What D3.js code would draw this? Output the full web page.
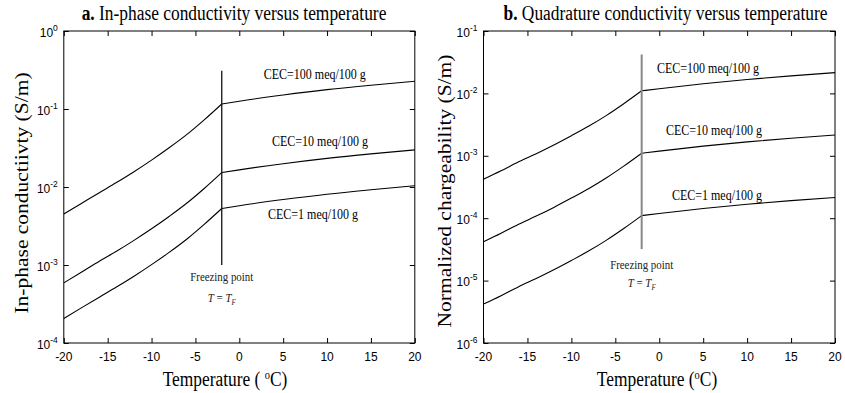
<!DOCTYPE html>
<html>
<head>
<meta charset="utf-8">
<script src="https://cdn.jsdelivr.net/npm/d3@7"></script>
<style>
  body { margin: 0; background: #fff; }
  .tick line { stroke: #000; }
</style>
</head>
<body>
<div id="chart"></div>
<script>
//////////
// DATA //
//////////

// temperatures (deg C) below and above the freezing point
var frozenTemps = [-20, -18, -16, -14, -12, -10, -8, -6, -4, -2];
var thawedTemps = [-2, 0, 5, 10, 15, 20];
var freezingT = -2;
var xTicks = [-20, -15, -10, -5, 0, 5, 10, 15, 20];

var cecLabels = ["CEC=100 meq/100 g", "CEC=10 meq/100 g", "CEC=1 meq/100 g"];

// a. in-phase conductivity (S/m)
var inPhase100Frozen = [4.5e-3, 6.15e-3, 8.4e-3, 1.14e-2, 1.57e-2, 2.21e-2, 3.18e-2, 4.69e-2, 7.26e-2, 0.116];
var inPhase100Thawed = [0.116, 0.126, 0.151, 0.177, 0.202, 0.227];
var inPhase10Frozen = [5.9e-4, 8.07e-4, 1.11e-3, 1.50e-3, 2.07e-3, 2.91e-3, 4.19e-3, 6.18e-3, 9.57e-3, 1.53e-2];
var inPhase10Thawed = [1.53e-2, 1.66e-2, 1.99e-2, 2.33e-2, 2.66e-2, 2.99e-2];
var inPhase1Frozen = [2.06e-4, 2.82e-4, 3.84e-4, 5.21e-4, 7.17e-4, 1.01e-3, 1.45e-3, 2.14e-3, 3.32e-3, 5.3e-3];
var inPhase1Thawed = [5.3e-3, 5.76e-3, 6.9e-3, 8.09e-3, 9.23e-3, 1.04e-2];
var inPhaseExps = [0, -1, -2, -3, -4];
var inPhaseFreezeLine = [1e-3, 0.31];

// b. normalized chargeability (S/m)
var quad100Frozen = [4.2e-4, 5.74e-4, 8.0e-4, 1.08e-3, 1.49e-3, 2.1e-3, 3.0e-3, 4.45e-3, 6.9e-3, 1.1e-2];
var quad100Thawed = [1.1e-2, 1.19e-2, 1.43e-2, 1.67e-2, 1.91e-2, 2.15e-2];
var quad10Frozen = [4.2e-5, 5.74e-5, 8.0e-5, 1.08e-4, 1.49e-4, 2.1e-4, 3.0e-4, 4.45e-4, 6.9e-4, 1.1e-3];
var quad10Thawed = [1.1e-3, 1.19e-3, 1.43e-3, 1.67e-3, 1.91e-3, 2.15e-3];
var quad1Frozen = [4.2e-6, 5.74e-6, 8.0e-6, 1.08e-5, 1.49e-5, 2.1e-5, 3.0e-5, 4.45e-5, 6.9e-5, 1.1e-4];
var quad1Thawed = [1.1e-4, 1.19e-4, 1.43e-4, 1.67e-4, 1.91e-4, 2.15e-4];
var quadExps = [-1, -2, -3, -4, -5, -6];
var quadFreezeLine = [3.2e-5, 0.042];

/////////
// SVG //
/////////

var svg = d3.select("#chart").append("svg")
  .attr("width", 845)
  .attr("height", 393)
  .style("background", "#fff");

// the original figure is squeezed a little horizontally (serif text only)
var SX = 0.87;
var serif = "'Liberation Serif', 'Times New Roman', serif";
var sans = "'Liberation Sans', Arial, sans-serif";

function addText(g, x, y, size, family, anchor, rotate, sx) {
  var s = (sx === undefined) ? SX : sx;
  return g.append("text")
    .attr("transform", "translate(" + x + "," + y + ") scale(" + s + ",1)" + (rotate ? " rotate(-90)" : ""))
    .attr("text-anchor", anchor)
    .style("font-family", family)
    .style("font-size", size + "px")
    .attr("fill", "#000");
}

function drawPanel(p) {
  var g = svg.append("g");

  var x = d3.scaleLinear().domain([-20, 20]).range([p.left, p.right]);
  var y = d3.scaleLog()
    .domain([Math.pow(10, d3.min(p.exps)), Math.pow(10, d3.max(p.exps))])
    .range([p.bottom, p.top]);
  var yTickVals = p.exps.map(function (e) { return Math.pow(10, e); });

  // inward ticks on all four sides
  g.append("g").attr("transform", "translate(0," + p.bottom + ")")
    .call(d3.axisBottom(x).tickValues(xTicks).tickSize(-5).tickFormat(""));
  g.append("g").attr("transform", "translate(0," + p.top + ")")
    .call(d3.axisTop(x).tickValues(xTicks).tickSize(-5).tickFormat(""));
  g.append("g").attr("transform", "translate(" + p.left + ",0)")
    .call(d3.axisLeft(y).tickValues(yTickVals).tickSize(-5).tickFormat(""));
  g.append("g").attr("transform", "translate(" + p.right + ",0)")
    .call(d3.axisRight(y).tickValues(yTickVals).tickSize(-5).tickFormat(""));
  g.selectAll(".domain").remove();

  g.append("rect")
    .attr("x", p.left).attr("y", p.top)
    .attr("width", p.right - p.left).attr("height", p.bottom - p.top)
    .attr("fill", "none").attr("stroke", "#000").attr("stroke-width", 1);

  // x tick labels
  xTicks.forEach(function (t) {
    addText(g, x(t), p.bottom + 18, 12, sans, "middle", false, 1).text(t);
  });

  // y tick labels 10^n
  p.exps.forEach(function (e) {
    var yy = y(Math.pow(10, e));
    var txt = addText(g, p.left - 6, yy + 5.5, 12, sans, "end", false, 1);
    txt.append("tspan").text("10");
    txt.append("tspan").attr("dy", -6).style("font-size", "8.5px").text(e);
  });

  // curves, drawn in two branches so the kink at the freezing point stays sharp
  var line = d3.line()
    .x(function (d) { return x(d[0]); })
    .y(function (d) { return y(d[1]); })
    .curve(d3.curveMonotoneX);

  p.series.forEach(function (s) {
    [[frozenTemps, s.frozen], [thawedTemps, s.thawed]].forEach(function (br) {
      g.append("path")
        .datum(d3.zip(br[0], br[1]))
        .attr("d", line)
        .attr("fill", "none")
        .attr("stroke", "#000")
        .attr("stroke-width", 1.1);
    });
    addText(g, x(s.labelAt[0]), y(s.labelAt[1]) + 4.5, 13.8, serif, "middle").text(s.label);
  });

  // freezing point marker
  g.append("line")
    .attr("x1", x(freezingT)).attr("x2", x(freezingT))
    .attr("y1", y(p.freeze[0])).attr("y2", y(p.freeze[1]))
    .attr("stroke", p.freezeColor)
    .attr("stroke-width", p.freezeWidth);

  addText(g, x(freezingT), y(p.fpLabel) + 4, 12.5, serif, "middle")
    .attr("fill", "#222").text("Freezing point");
  var tf = addText(g, x(freezingT), y(p.tfLabel) + 4, 12.5, serif, "middle")
    .style("font-style", "italic").attr("fill", "#222");
  tf.append("tspan").text("T");
  tf.append("tspan").style("font-style", "normal").text(" = ");
  tf.append("tspan").text("T");
  tf.append("tspan").attr("dy", 3).style("font-size", "8px").text("F");

  // title
  var title = addText(g, p.titleX, 19.5, 20, serif, "middle");
  title.append("tspan").style("font-weight", "bold").text(p.titleBold);
  title.append("tspan").text(" " + p.title);

  // axis labels
  var xl = addText(g, p.xlabelX, 386, 20, serif, "middle");
  xl.append("tspan").text(p.xlabelPre);
  xl.append("tspan").attr("dy", -7).style("font-size", "12px").text("o");
  xl.append("tspan").attr("dy", 7).text("C)");

  addText(g, p.ylabelX, (p.top + p.bottom) / 2 + p.ylabelShift, 21.5, serif, "middle", true)
    .text(p.ylabel);
}

drawPanel({
  left: 63.8, right: 414.8, top: 31, bottom: 343,
  exps: inPhaseExps,
  titleBold: "a.", title: "In-phase conductivity versus temperature", titleX: 234,
  xlabelPre: "Temperature ( ", xlabelX: 225,
  ylabel: "In-phase conductiivty (S/m)", ylabelX: 28, ylabelShift: 6,
  freeze: inPhaseFreezeLine, freezeColor: "#111", freezeWidth: 1.3,
  fpLabel: 7.1e-4, tfLabel: 3.8e-4,
  series: [
    { frozen: inPhase100Frozen, thawed: inPhase100Thawed, label: cecLabels[0], labelAt: [8.6, 0.273] },
    { frozen: inPhase10Frozen, thawed: inPhase10Thawed, label: cecLabels[1], labelAt: [9.2, 0.0381] },
    { frozen: inPhase1Frozen, thawed: inPhase1Thawed, label: cecLabels[2], labelAt: [8.4, 0.0045] }
  ]
});

drawPanel({
  left: 483.5, right: 835, top: 31, bottom: 343,
  exps: quadExps,
  titleBold: "b.", title: "Quadrature conductivity versus temperature", titleX: 665.5,
  xlabelPre: "Temperature (", xlabelX: 657,
  ylabel: "Normalized chargeability (S/m)", ylabelX: 451, ylabelShift: 4,
  freeze: quadFreezeLine, freezeColor: "#888", freezeWidth: 2,
  fpLabel: 1.78e-5, tfLabel: 9.06e-6,
  series: [
    { frozen: quad100Frozen, thawed: quad100Thawed, label: cecLabels[0], labelAt: [5.55, 0.0252] },
    { frozen: quad10Frozen, thawed: quad10Thawed, label: cecLabels[1], labelAt: [6.23, 2.5e-3] },
    { frozen: quad1Frozen, thawed: quad1Thawed, label: cecLabels[2], labelAt: [6.57, 2.27e-4] }
  ]
});
</script>
</body>
</html>
